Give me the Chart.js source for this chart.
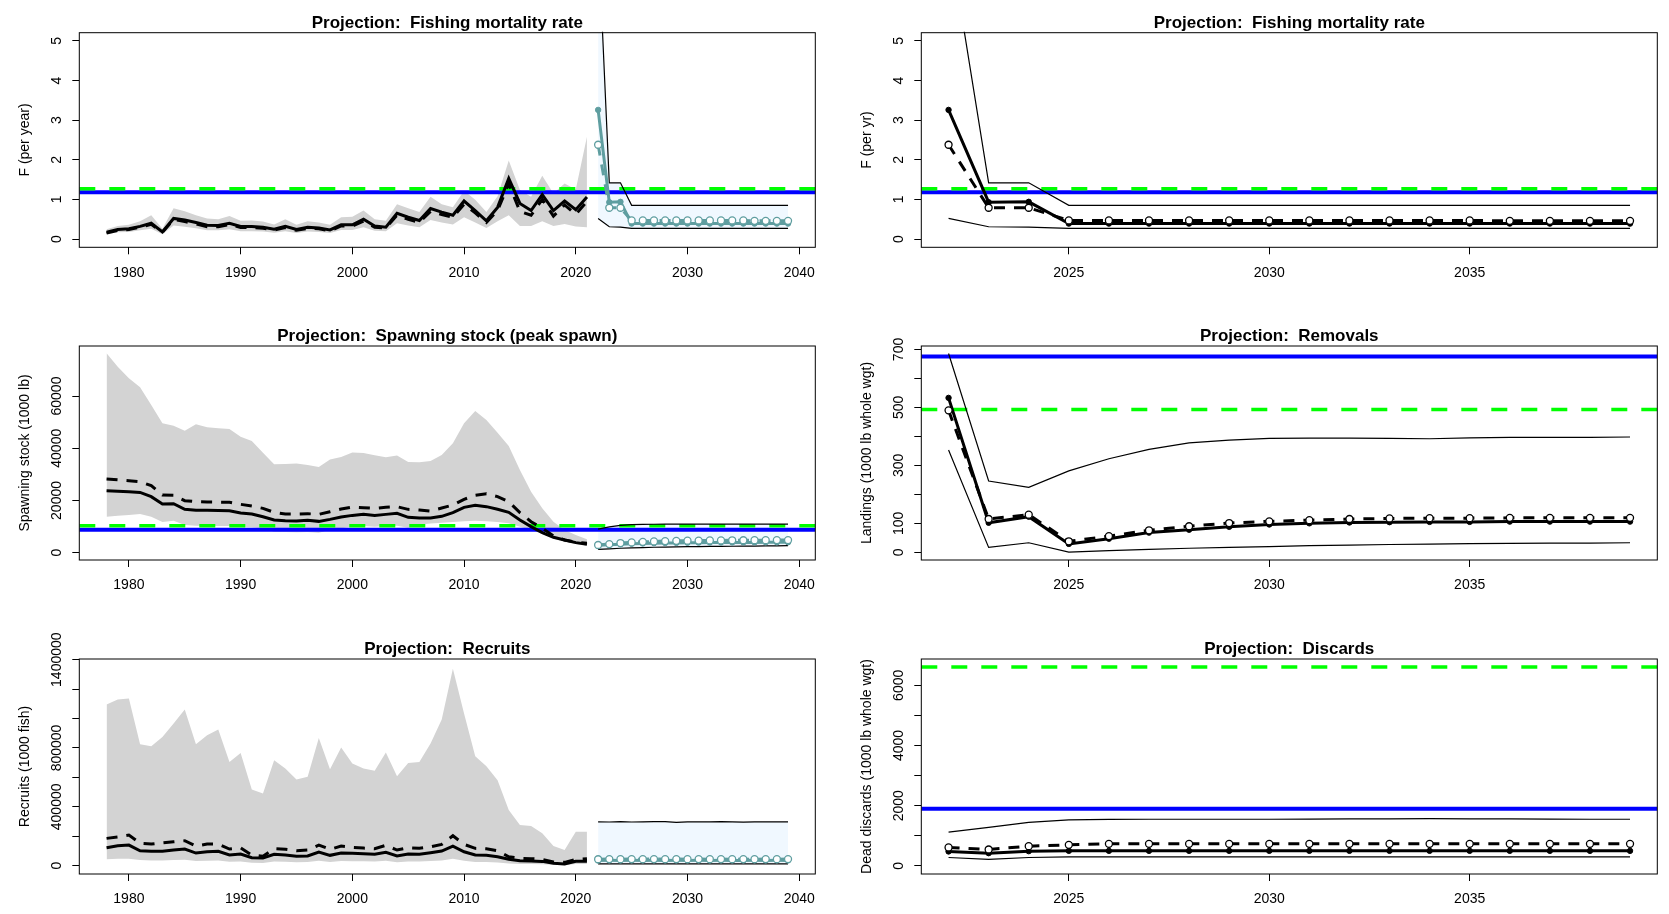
<!DOCTYPE html>
<html>
<head>
<meta charset="utf-8">
<title>Projections</title>
<script src="https://cdn.jsdelivr.net/npm/chart.js@4.4.1/dist/chart.umd.min.js"></script>
<style>
    html, body { margin: 0; padding: 0; background: #fff; }
    #wrap { position: relative; width: 1669px; height: 914px; overflow: hidden; }
    #wrap canvas { position: absolute; left: 0; top: 0; }
</style>
</head>
<body>
<div id="wrap">
    <canvas id="cF" width="1669" height="914"></canvas>
    <canvas id="cFp" width="1669" height="914"></canvas>
    <canvas id="cSsb" width="1669" height="914"></canvas>
    <canvas id="cLand" width="1669" height="914"></canvas>
    <canvas id="cRec" width="1669" height="914"></canvas>
    <canvas id="cDisc" width="1669" height="914"></canvas>
</div>
<script>
// ---- years ----
const histYears = [1978, 1979, 1980, 1981, 1982, 1983, 1984, 1985, 1986, 1987,
    1988, 1989, 1990, 1991, 1992, 1993, 1994, 1995, 1996, 1997,
    1998, 1999, 2000, 2001, 2002, 2003, 2004, 2005, 2006, 2007,
    2008, 2009, 2010, 2011, 2012, 2013, 2014, 2015, 2016, 2017,
    2018, 2019, 2020, 2021];
const projYears = [2022, 2023, 2024, 2025, 2026, 2027, 2028, 2029, 2030,
    2031, 2032, 2033, 2034, 2035, 2036, 2037, 2038, 2039];

// ---- tick values ----
const xTicksLeft = [1980, 1990, 2000, 2010, 2020, 2030, 2040];
const xTicksRight = [2025, 2030, 2035];
const fTicks = [0, 1, 2, 3, 4, 5];
const ssbTicks = [0, 20000, 40000, 60000];
const landTicks = [0, 100, 200, 300, 400, 500, 600, 700];
const landLabels = [0, 100, 300, 500, 700];
const recTicks = [0, 200000, 400000, 600000, 800000, 1000000, 1200000, 1400000];
const recLabels = [0, 400000, 800000, 1400000];
const discTicks = [0, 1000, 2000, 3000, 4000, 5000, 6000];
const discLabels = [0, 2000, 4000, 6000];

// ---- fishing mortality ----
const fMed = [0.17, 0.24, 0.26, 0.32, 0.40, 0.18, 0.52, 0.48, 0.42, 0.35,
    0.34, 0.40, 0.32, 0.32, 0.30, 0.25, 0.32, 0.24, 0.30, 0.28,
    0.23, 0.36, 0.36, 0.50, 0.33, 0.30, 0.65, 0.55, 0.47, 0.77,
    0.68, 0.60, 0.96, 0.72, 0.46, 0.80, 1.53, 0.90, 0.72, 1.12,
    0.72, 0.96, 0.74, 1.06];
const fBase = [0.15, 0.22, 0.24, 0.30, 0.37, 0.17, 0.50, 0.44, 0.38, 0.31,
    0.31, 0.37, 0.29, 0.29, 0.27, 0.23, 0.29, 0.22, 0.27, 0.26,
    0.21, 0.33, 0.33, 0.45, 0.30, 0.28, 0.60, 0.50, 0.42, 0.70,
    0.62, 0.55, 0.88, 0.66, 0.42, 0.72, 1.40, 0.70, 0.60, 1.00,
    0.58, 0.86, 0.62, 0.95];
const fHi = [0.25, 0.33, 0.36, 0.45, 0.60, 0.26, 0.78, 0.70, 0.60, 0.52,
    0.50, 0.58, 0.46, 0.47, 0.44, 0.37, 0.50, 0.36, 0.45, 0.42,
    0.36, 0.55, 0.56, 0.72, 0.50, 0.46, 0.88, 0.78, 0.68, 1.07,
    0.88, 0.80, 1.22, 0.99, 0.68, 1.08, 1.98, 1.24, 1.07, 1.60,
    1.15, 1.40, 1.25, 2.58];
const fLo = [0.12, 0.17, 0.18, 0.22, 0.26, 0.12, 0.34, 0.31, 0.27, 0.22,
    0.22, 0.25, 0.20, 0.20, 0.19, 0.16, 0.20, 0.15, 0.19, 0.18,
    0.15, 0.23, 0.23, 0.30, 0.21, 0.20, 0.40, 0.34, 0.30, 0.48,
    0.42, 0.37, 0.55, 0.42, 0.28, 0.45, 0.60, 0.33, 0.33, 0.45,
    0.33, 0.38, 0.32, 0.30];
const fProjMed = [3.26, 0.93, 0.94, 0.39, 0.39, 0.39, 0.39, 0.39, 0.39,
    0.39, 0.39, 0.39, 0.39, 0.39, 0.39, 0.39, 0.39, 0.39];
const fProjBase = [2.38, 0.79, 0.79, 0.47, 0.47, 0.47, 0.47, 0.47, 0.47,
    0.47, 0.47, 0.47, 0.47, 0.47, 0.46, 0.46, 0.46, 0.46];
const fProjHi = [7.7, 1.42, 1.42, 0.85, 0.85, 0.85, 0.85, 0.85, 0.85,
    0.85, 0.85, 0.85, 0.85, 0.85, 0.85, 0.85, 0.85, 0.85];
const fProjLo = [0.52, 0.31, 0.30, 0.27, 0.27, 0.27, 0.27, 0.27, 0.27,
    0.27, 0.27, 0.27, 0.27, 0.27, 0.27, 0.27, 0.27, 0.27];
const fRefBlue = 1.18;
const fRefGreen = 1.27;

// ---- spawning stock ----
const ssbMed = [23750, 23550, 23360, 23100, 21450, 18650, 18770, 16600, 16220, 16220,
    16150, 16100, 15200, 14800, 13780, 12500, 12250, 12120, 12380, 12000,
    12760, 13650, 14290, 14680, 14290, 14680, 15060, 13530, 13290, 13290,
    13930, 15340, 17380, 18150, 17640, 16620, 15470, 12540, 9980, 7690,
    5900, 4880, 3860, 3220];
const ssbBase = [28230, 27900, 27590, 27210, 25680, 22100, 21970, 19930, 19540, 19420,
    19350, 19290, 18520, 17880, 16990, 15460, 14820, 14820, 14940, 14680,
    15700, 16730, 17490, 17240, 16990, 17370, 17620, 16600, 16350, 15960,
    17110, 18260, 20430, 21970, 22610, 21460, 19540, 15330, 11880, 9330,
    6390, 4880, 4100, 3600];
const ssbHi = [76370, 71260, 66800, 63350, 56570, 49560, 48640, 46730, 49180, 48030,
    47650, 47400, 44430, 42780, 38300, 33860, 33990, 34120, 33600, 32830,
    35650, 36670, 38330, 38200, 37310, 36540, 37180, 34750, 34620, 35120,
    37420, 41900, 49560, 54270, 50820, 45960, 40870, 31670, 23360, 17000,
    11870, 8690, 6780, 5130];
const ssbLo = [13790, 14170, 14420, 14800, 13790, 11760, 12260, 10620, 10360, 10240,
    10240, 10240, 9980, 9730, 9350, 8050, 7930, 7800, 7930, 7670,
    8680, 9350, 9980, 10240, 9980, 10240, 10360, 9600, 10800, 11200,
    11500, 11760, 12010, 12260, 12010, 11760, 11250, 9980, 8700, 7170,
    5510, 4100, 3300, 2800];
const ssbProjMed = [2850, 3050, 3250, 3400, 3520, 3620, 3700, 3760, 3810,
    3850, 3880, 3900, 3920, 3940, 3950, 3960, 3970, 3980];
const ssbProjBase = [2950, 3300, 3700, 3950, 4150, 4300, 4450, 4550, 4600,
    4650, 4700, 4720, 4750, 4770, 4790, 4800, 4820, 4830];
const ssbProjHi = [9000, 9900, 10500, 10750, 10850, 10900, 10950, 10950, 10950,
    10950, 10950, 10950, 10950, 10950, 10950, 10950, 10950, 10950];
const ssbProjLo = [1300, 1500, 1700, 1850, 1980, 2080, 2160, 2230, 2290,
    2340, 2390, 2430, 2470, 2510, 2550, 2590, 2630, 2680];
const ssbRefBlue = 8810;
const ssbRefGreen = 10340;

// ---- removals (landings) ----
const landMed = [533, 102, 123, 29, 47, 68, 78, 88, 96,
    100, 103, 104, 105, 105, 106, 106, 106, 106];
const landBase = [490, 115, 130, 38, 56, 76, 90, 101, 107,
    111, 115, 117, 118, 118, 119, 119, 119, 119];
const landHi = [686, 246, 224, 281, 323, 355, 378, 387, 393,
    394, 394, 393, 392, 395, 397, 397, 397, 398];
const landLo = [353, 17, 33, 1, 6, 10, 14, 17, 20,
    23, 25, 27, 28, 30, 31, 32, 32, 33];
const landRefBlue = 676;
const landRefGreen = 493;

// ---- recruits ----
const recMed = [122100, 135700, 140400, 101700, 97700, 97700, 106500, 113300, 86100, 95000,
    97700, 72600, 79400, 54300, 52200, 77300, 72600, 63800, 65900, 92900,
    70500, 86100, 84100, 82000, 77300, 90900, 65900, 79400, 77300, 88200,
    99700, 133600, 95000, 72600, 70500, 61000, 43400, 33900, 31600, 29400,
    16300, 11500, 29800, 29800];
const recBase = [185800, 194700, 208200, 151900, 147200, 156000, 162800, 169600, 133600, 147200,
    147200, 113300, 122100, 72600, 65000, 115300, 111200, 101700, 106500, 140400,
    111200, 133600, 124800, 120000, 115300, 138400, 106500, 122100, 118000, 128900,
    145200, 203500, 145200, 118000, 115300, 101700, 61000, 50200, 48000, 43400,
    25100, 22900, 43400, 47900];
const recHi = [1094700, 1128600, 1135400, 825500, 811900, 875000, 965800, 1060800, 825500, 886500,
    925000, 705400, 766400, 518200, 491100, 717000, 660600, 586000, 603700, 868200,
    655900, 803100, 694600, 660600, 644400, 769100, 608400, 698600, 705400, 830200,
    993000, 1338900, 1033700, 744100, 676200, 581300, 377800, 276100, 269300, 219800,
    133600, 106500, 230600, 230600];
const recLo = [43400, 47000, 47000, 38000, 36000, 36000, 38000, 40000, 32000, 34000,
    35000, 27000, 29000, 20000, 19000, 28000, 27000, 24000, 25000, 34000,
    26000, 32000, 31000, 30000, 28000, 33000, 24000, 29000, 28000, 32000,
    36000, 48000, 34000, 26000, 25000, 22000, 15000, 12000, 11000, 10000,
    6000, 4000, 11000, 11000];
const recProjMed = [36000, 36500, 36000, 36500, 36000, 36500, 36000, 36500, 36000,
    36500, 36000, 36500, 36000, 36000, 36500, 36000, 36500, 36000];
const recProjBase = [44000, 45000, 44500, 45000, 44500, 45000, 44500, 45000, 44500,
    45000, 44500, 45000, 44500, 45000, 44500, 45000, 44500, 45000];
const recProjHi = [298500, 297000, 299500, 297000, 298500, 300000, 299000, 294500, 297500,
    297500, 298500, 299500, 297500, 296500, 297500, 298000, 298000, 298000];
const recProjLo = [12000, 12000, 12000, 12000, 12000, 12000, 12000, 12000, 12000,
    12000, 12000, 12000, 12000, 12000, 12000, 12000, 12000, 12000];

// ---- discards ----
const discMed = [479, 422, 489, 499, 499, 499, 499, 499, 499,
    499, 499, 499, 499, 499, 499, 499, 499, 499];
const discBase = [612, 545, 655, 699, 732, 732, 732, 732, 732,
    732, 732, 732, 732, 732, 732, 732, 732, 732];
const discHi = [1121, 1277, 1443, 1530, 1545, 1550, 1550, 1550, 1550,
    1555, 1560, 1565, 1570, 1565, 1560, 1555, 1550, 1550];
const discLo = [279, 213, 279, 300, 300, 300, 300, 300, 300,
    300, 300, 300, 300, 300, 300, 300, 300, 300];
const discRefBlue = 1896;
const discRefGreen = 6608;

// ---- styling ----
const FONT = '"Liberation Sans", Arial, Helvetica, sans-serif';
const GRAY = '#D3D3D3';
const TEAL = '#5F9EA0';
const ALICE = '#F0F8FF';
const BLUE = '#0000FF';
const GREEN = '#00FF00';
const DASH = [11, 9];

// plot boxes (page pixels)
const COLS = { left: [79.3, 815.3], right: [921.3, 1657.3] };
const ROWS = [[32.7, 247.3], [346, 560], [659, 874]];
const X_RANGE = { left: [1975.56, 2041.44], right: [2021.32, 2039.68] };
const X_TICKS = { left: xTicksLeft, right: xTicksRight };

function pts(xs, ys) {
    return xs.map((x, i) => ({ x: x, y: ys[i] }));
}

function mainLine(xs, ys, color, dashed, markers) {
    return {
        data: pts(xs, ys),
        borderColor: color,
        borderWidth: 3,
        borderDash: dashed ? DASH : [],
        pointRadius: markers ? (dashed ? 3.5 : 2.7) : 0,
        pointBackgroundColor: dashed ? '#fff' : color,
        pointBorderColor: color,
        pointBorderWidth: dashed ? 1.3 : 1,
        fill: false,
        clip: 2
    };
}

function ciLine(xs, ys, fillColor) {
    return {
        data: pts(xs, ys),
        borderColor: '#000',
        borderWidth: 1.2,
        pointRadius: 0,
        backgroundColor: fillColor || 'transparent',
        fill: fillColor ? '+1' : false,
        clip: 1
    };
}

function bandEdge(xs, ys, fillColor) {
    return {
        data: pts(xs, ys),
        borderWidth: 0,
        borderColor: 'transparent',
        pointRadius: 0,
        backgroundColor: fillColor || 'transparent',
        fill: fillColor ? '+1' : false,
        clip: 0
    };
}

function hline(value, color, width, dash) {
    return { value: value, color: color, width: width, dash: dash || [] };
}

// box, title, rotated y labels and reference lines (R-style)
function decor(p, box) {
    return {
        id: 'decor',
        beforeDatasetsDraw(chart) {
            const ctx = chart.ctx;
            const a = chart.chartArea;
            const y = chart.scales.y;
            ctx.save();
            ctx.beginPath();
            ctx.rect(a.left, a.top, a.right - a.left, a.bottom - a.top);
            ctx.clip();
            (p.refs || []).forEach(r => {
                const py = y.getPixelForValue(r.value);
                ctx.strokeStyle = r.color;
                ctx.lineWidth = r.width;
                ctx.setLineDash(r.dash);
                ctx.beginPath();
                ctx.moveTo(a.left, py);
                ctx.lineTo(a.right, py);
                ctx.stroke();
            });
            ctx.restore();
        },
        afterDraw(chart) {
            const ctx = chart.ctx;
            const a = chart.chartArea;
            const y = chart.scales.y;
            ctx.save();
            ctx.strokeStyle = '#000';
            ctx.lineWidth = 1;
            ctx.setLineDash([]);
            ctx.strokeRect(a.left, a.top, a.right - a.left, a.bottom - a.top);

            ctx.fillStyle = '#000';
            ctx.font = 'bold 17px ' + FONT;
            ctx.textAlign = 'center';
            ctx.textBaseline = 'alphabetic';
            ctx.fillText(p.title, (a.left + a.right) / 2, a.top - 5);

            ctx.font = '14px ' + FONT;
            (p.yLabels || p.yTicks).forEach(v => {
                ctx.save();
                ctx.translate(a.left - 18, y.getPixelForValue(v));
                ctx.rotate(-Math.PI / 2);
                ctx.fillText(String(v), 0, 0);
                ctx.restore();
            });

            ctx.save();
            ctx.translate(a.left - 50, (a.top + a.bottom) / 2);
            ctx.rotate(-Math.PI / 2);
            ctx.fillText(p.yTitle, 0, 0);
            ctx.restore();
            ctx.restore();
        }
    };
}

function makePanel(canvasId, p) {
    const L = COLS[p.col][0], R = COLS[p.col][1];
    const T = ROWS[p.row][0], B = ROWS[p.row][1];
    const xr = X_RANGE[p.col];
    const xTicks = X_TICKS[p.col];
    const AX = 40;
    const tickGrid = {
        display: true,
        drawOnChartArea: false,
        drawTicks: true,
        tickLength: 7,
        color: '#000',
        lineWidth: 1
    };

    return new Chart(document.getElementById(canvasId), {
        type: 'line',
        data: { datasets: p.datasets },
        options: {
            responsive: false,
            animation: false,
            devicePixelRatio: 1,
            events: [],
            layout: {
                autoPadding: false,
                padding: { left: L - AX, top: T, right: 1669 - R, bottom: 914 - B - AX }
            },
            elements: { line: { tension: 0 } },
            plugins: {
                legend: { display: false },
                tooltip: { enabled: false },
                filler: { drawTime: 'beforeDatasetsDraw' }
            },
            scales: {
                x: {
                    type: 'linear',
                    min: xr[0],
                    max: xr[1],
                    border: { display: false },
                    grid: tickGrid,
                    ticks: {
                        color: '#000',
                        font: { family: FONT, size: 14 },
                        padding: 10,
                        autoSkip: false,
                        maxRotation: 0,
                        callback: v => String(v)
                    },
                    afterBuildTicks: s => { s.ticks = xTicks.map(v => ({ value: v })); },
                    afterFit: s => { s.height = AX; s.paddingLeft = 0; s.paddingRight = 0; }
                },
                y: {
                    type: 'linear',
                    min: p.yRange[0],
                    max: p.yRange[1],
                    border: { display: false },
                    grid: tickGrid,
                    ticks: { display: false, autoSkip: false },
                    afterBuildTicks: s => { s.ticks = p.yTicks.map(v => ({ value: v })); },
                    afterFit: s => { s.width = AX; s.paddingTop = 0; s.paddingBottom = 0; }
                }
            }
        },
        plugins: [decor(p)]
    });
}

// Fishing mortality, full time series
makePanel('cF', {
    col: 'left', row: 0,
    title: 'Projection:  Fishing mortality rate',
    yTitle: 'F (per year)',
    yRange: [-0.208, 5.208],
    yTicks: fTicks,
    refs: [hline(fRefBlue, BLUE, 4), hline(fRefGreen, GREEN, 3.5, [16, 14])],
    datasets: [
        mainLine(projYears, fProjBase, TEAL, true, true),
        mainLine(projYears, fProjMed, TEAL, false, true),
        mainLine(histYears, fMed, '#000', false, false),
        mainLine(histYears, fBase, '#000', true, false),
        ciLine(projYears, fProjHi, ALICE),
        ciLine(projYears, fProjLo),
        bandEdge(histYears, fHi, GRAY),
        bandEdge(histYears, fLo)
    ]
});

// Fishing mortality, projection only
makePanel('cFp', {
    col: 'right', row: 0,
    title: 'Projection:  Fishing mortality rate',
    yTitle: 'F (per yr)',
    yRange: [-0.208, 5.208],
    yTicks: fTicks,
    refs: [hline(fRefBlue, BLUE, 4), hline(fRefGreen, GREEN, 3.5, [16, 14])],
    datasets: [
        mainLine(projYears, fProjBase, '#000', true, true),
        mainLine(projYears, fProjMed, '#000', false, true),
        ciLine(projYears, fProjHi),
        ciLine(projYears, fProjLo)
    ]
});

// Spawning stock
makePanel('cSsb', {
    col: 'left', row: 1,
    title: 'Projection:  Spawning stock (peak spawn)',
    yTitle: 'Spawning stock (1000 lb)',
    yRange: [-2795, 79160],
    yTicks: ssbTicks,
    refs: [hline(ssbRefBlue, BLUE, 4), hline(ssbRefGreen, GREEN, 3.5, [16, 14])],
    datasets: [
        mainLine(projYears, ssbProjBase, TEAL, true, true),
        mainLine(projYears, ssbProjMed, TEAL, false, true),
        mainLine(histYears, ssbMed, '#000', false, false),
        mainLine(histYears, ssbBase, '#000', true, false),
        ciLine(projYears, ssbProjHi, ALICE),
        ciLine(projYears, ssbProjLo),
        bandEdge(histYears, ssbHi, GRAY),
        bandEdge(histYears, ssbLo)
    ]
});

// Removals
makePanel('cLand', {
    col: 'right', row: 1,
    title: 'Projection:  Removals',
    yTitle: 'Landings (1000 lb whole wgt)',
    yRange: [-26.5, 712],
    yTicks: landTicks,
    yLabels: landLabels,
    refs: [hline(landRefBlue, BLUE, 4), hline(landRefGreen, GREEN, 3.5, [16, 14])],
    datasets: [
        mainLine(projYears, landBase, '#000', true, true),
        mainLine(projYears, landMed, '#000', false, true),
        ciLine(projYears, landHi),
        ciLine(projYears, landLo)
    ]
});

// Recruits
makePanel('cRec', {
    col: 'left', row: 2,
    title: 'Projection:  Recruits',
    yTitle: 'Recruits (1000 fish)',
    yRange: [-56300, 1404500],
    yTicks: recTicks,
    yLabels: recLabels,
    refs: [],
    datasets: [
        mainLine(projYears, recProjBase, TEAL, true, true),
        mainLine(projYears, recProjMed, TEAL, false, true),
        mainLine(histYears, recMed, '#000', false, false),
        mainLine(histYears, recBase, '#000', true, false),
        ciLine(projYears, recProjHi, ALICE),
        ciLine(projYears, recProjLo),
        bandEdge(histYears, recHi, GRAY),
        bandEdge(histYears, recLo)
    ]
});

// Discards
makePanel('cDisc', {
    col: 'right', row: 2,
    title: 'Projection:  Discards',
    yTitle: 'Dead discards (1000 lb whole wgt)',
    yRange: [-270, 6875],
    yTicks: discTicks,
    yLabels: discLabels,
    refs: [hline(discRefBlue, BLUE, 4), hline(discRefGreen, GREEN, 3.5, [16, 14])],
    datasets: [
        mainLine(projYears, discBase, '#000', true, true),
        mainLine(projYears, discMed, '#000', false, true),
        ciLine(projYears, discHi),
        ciLine(projYears, discLo)
    ]
});
</script>
</body>
</html>
